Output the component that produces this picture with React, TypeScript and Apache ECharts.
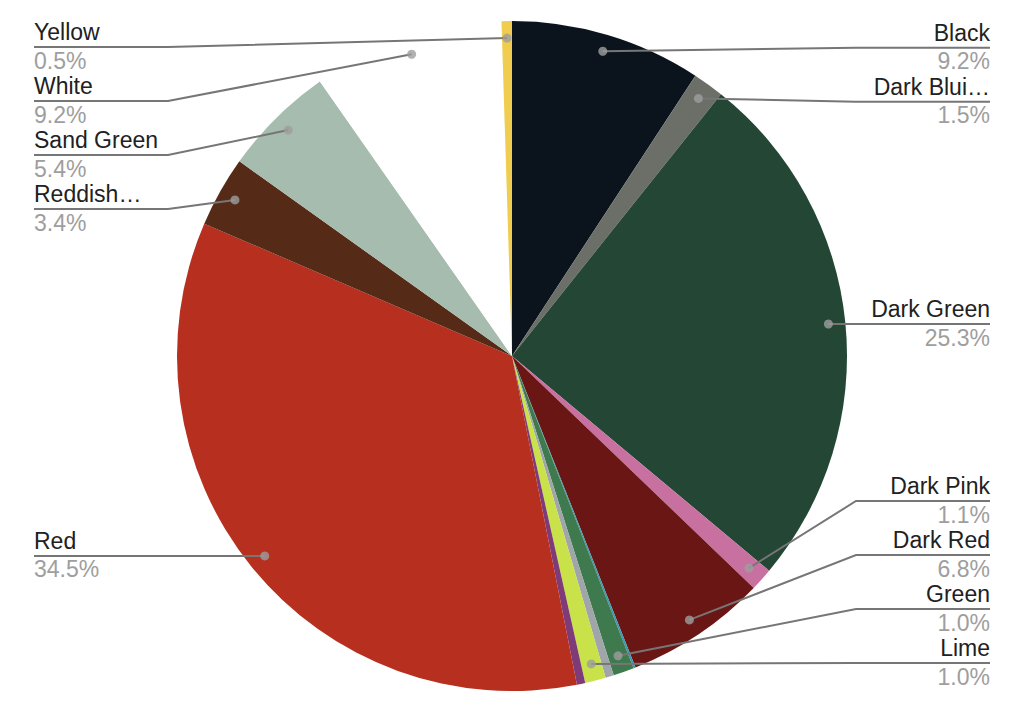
import React, { useEffect, useRef } from 'react';
import * as echarts from 'echarts';

const categories = [
  'Black', 'Dark Bluish Gray', 'Dark Green', 'Dark Pink', 'Dark Red', 'Dark Turquoise',
  'Green', 'Light Bluish Gray', 'Lime', 'Magenta', 'Red', 'Reddish Brown', 'Sand Green',
  'White', 'Yellow',
];
const values = [9.2, 1.5, 25.3, 1.1, 6.8, 0.1, 1.0, 0.4, 1.0, 0.4, 34.5, 3.4, 5.4, 9.2, 0.5];
const colors = [
  '#0b141d', '#6c6e68', '#244634', '#c870a0', '#6a1614', '#3a9ab3',
  '#3e7a4e', '#a0a5a9', '#c9e24a', '#7f3a78', '#b62f1f', '#552a17', '#a5bcae',
  '#ffffff', '#f0cd4e',
];
const LABEL_MIN = 0.5;

const CX = 512;
const CY = 356;
const R = 335;
const DOT_R = 318;
const TOP = 20;
const BOTTOM = 26;
const LEFT_X = 34;
const RIGHT_X = 990;
const SEG = 134;
const LABEL_H = 54;
const MIN_Y = 47;
const MAX_Y = 663;
const FONT = 23;
const FONT_FAMILY = '"Liberation Sans", Arial, sans-serif';
const NAME_MAX_W = 126.5;

function shortName(name: string): string {
  const fmt: any = (echarts as any).format;
  if (fmt && typeof fmt.truncateText === 'function') {
    const t: string = fmt.truncateText(name, NAME_MAX_W, `${FONT}px "Liberation Sans"`, '…');
    return t.replace(/\s+…$/, '…');
  }
  return name;
}

// Google-like label stacking: overlapping labels are grouped and centred on their mean.
function stackLabels(items: { idx: number; y0: number }[]): Record<number, number> {
  const sorted = [...items].sort((a, b) => a.y0 - b.y0);
  type Cl = { members: { idx: number; y0: number }[]; top: number };
  const place = (c: Cl) => {
    const n = c.members.length;
    const mean = c.members.reduce((s, m) => s + m.y0, 0) / n;
    let top = mean - ((n - 1) * LABEL_H) / 2;
    top = Math.max(MIN_Y, Math.min(MAX_Y - (n - 1) * LABEL_H, top));
    c.top = top;
  };
  let clusters: Cl[] = sorted.map((m) => {
    const c = { members: [m], top: 0 };
    place(c);
    return c;
  });
  let changed = true;
  while (changed) {
    changed = false;
    for (let i = 1; i < clusters.length; i++) {
      const prev = clusters[i - 1];
      const cur = clusters[i];
      if (cur.top < prev.top + prev.members.length * LABEL_H - 0.01) {
        const merged = { members: [...prev.members, ...cur.members], top: 0 };
        place(merged);
        clusters = [...clusters.slice(0, i - 1), merged, ...clusters.slice(i + 1)];
        changed = true;
        break;
      }
    }
  }
  const out: Record<number, number> = {};
  clusters.forEach((c) => c.members.forEach((m, k) => (out[m.idx] = c.top + k * LABEL_H)));
  return out;
}

export default function App() {
  const ref = useRef<HTMLDivElement>(null);
  useEffect(() => {
    if (!ref.current) return;
    const chart = echarts.init(ref.current, null, { renderer: 'svg' });
    const total = values.reduce((a, b) => a + b, 0);
    const mids: number[] = [];
    let acc = 0;
    values.forEach((v) => {
      mids.push(acc + v / 2);
      acc += v;
    });

    const leftItems: { idx: number; y0: number }[] = [];
    const rightItems: { idx: number; y0: number }[] = [];
    const isLeftIdx: Record<number, boolean> = {};
    values.forEach((v, i) => {
      if (v < LABEL_MIN) return;
      const th = (mids[i] / total) * Math.PI * 2;
      const y0 = CY - DOT_R * Math.cos(th);
      const left = Math.sin(th) < 0;
      isLeftIdx[i] = left;
      (left ? leftItems : rightItems).push({ idx: i, y0 });
    });
    const labelY = { ...stackLabels(leftItems), ...stackLabels(rightItems) };

    const box = { top: TOP, bottom: BOTTOM, left: 0, right: 0 };
    const center = [CX, CY - TOP];

    chart.setOption({
      animation: false,
      polar: { center: [CX, CY], radius: R },
      angleAxis: {
        type: 'value', min: 0, max: total, startAngle: 90, clockwise: true, show: false,
      },
      radiusAxis: { type: 'value', min: 0, max: R, show: false },
      series: [
        {
          type: 'pie',
          ...box,
          center,
          radius: R,
          startAngle: 90,
          silent: true,
          label: { show: false },
          labelLine: { show: false },
          itemStyle: { borderWidth: 0 },
          data: categories.map((name, i) => ({
            name,
            value: values[i],
            itemStyle: { color: colors[i] },
          })),
        },
        {
          type: 'pie',
          ...box,
          center,
          radius: DOT_R,
          startAngle: 90,
          silent: true,
          z: 4,
          itemStyle: { color: 'rgba(0,0,0,0)', borderWidth: 0 },
          avoidLabelOverlap: false,
          label: {
            show: true,
            position: 'outer',
            alignTo: 'edge',
            edgeDistance: 32,
            formatter: (p: any) =>
              `{name|${shortName(p.name)}}\n{pct|${Number(p.value).toFixed(1)}%}`,
            rich: {
              name: { fontSize: FONT, fontFamily: FONT_FAMILY, color: '#212121', lineHeight: 28 },
              pct: { fontSize: FONT, fontFamily: FONT_FAMILY, color: '#9e9e9e', lineHeight: 29 },
            },
          },
          labelLine: {
            show: true,
            length: 0,
            length2: 10,
            lineStyle: { color: '#767676', width: 2 },
          },
          labelLayout: (params: any) => {
            const pts = params.labelLinePoints;
            const i = params.dataIndex;
            if (!pts || labelY[i] == null) return {};
            const isLeft = isLeftIdx[i];
            const y = labelY[i];
            const edgeX = isLeft ? LEFT_X : RIGHT_X;
            const elbowX = isLeft ? edgeX + SEG : edgeX - SEG;
            const start = pts[0];
            return {
              x: edgeX,
              y: y - 0.5,
              align: isLeft ? 'left' : 'right',
              verticalAlign: 'middle',
              labelLinePoints: [
                [start[0], start[1]],
                [elbowX, y],
                [edgeX, y],
              ],
            };
          },
          data: categories.map((name, i) => ({
            name,
            value: values[i],
            label: { show: values[i] >= LABEL_MIN },
            labelLine: { show: values[i] >= LABEL_MIN },
          })),
        },
        {
          type: 'scatter',
          coordinateSystem: 'polar',
          silent: true,
          z: 10,
          symbol: 'circle',
          symbolSize: 9,
          itemStyle: { color: '#9e9e9e' },
          data: values
            .map((v, i) => ({ v, i }))
            .filter((d) => d.v >= LABEL_MIN)
            .map((d) => [DOT_R, mids[d.i]]),
        },
      ],
    });
    return () => chart.dispose();
  }, []);
  return (
    <div
      ref={ref}
      style={{ position: 'absolute', left: 0, top: 0, width: 1022, height: 716 }}
    />
  );
}
